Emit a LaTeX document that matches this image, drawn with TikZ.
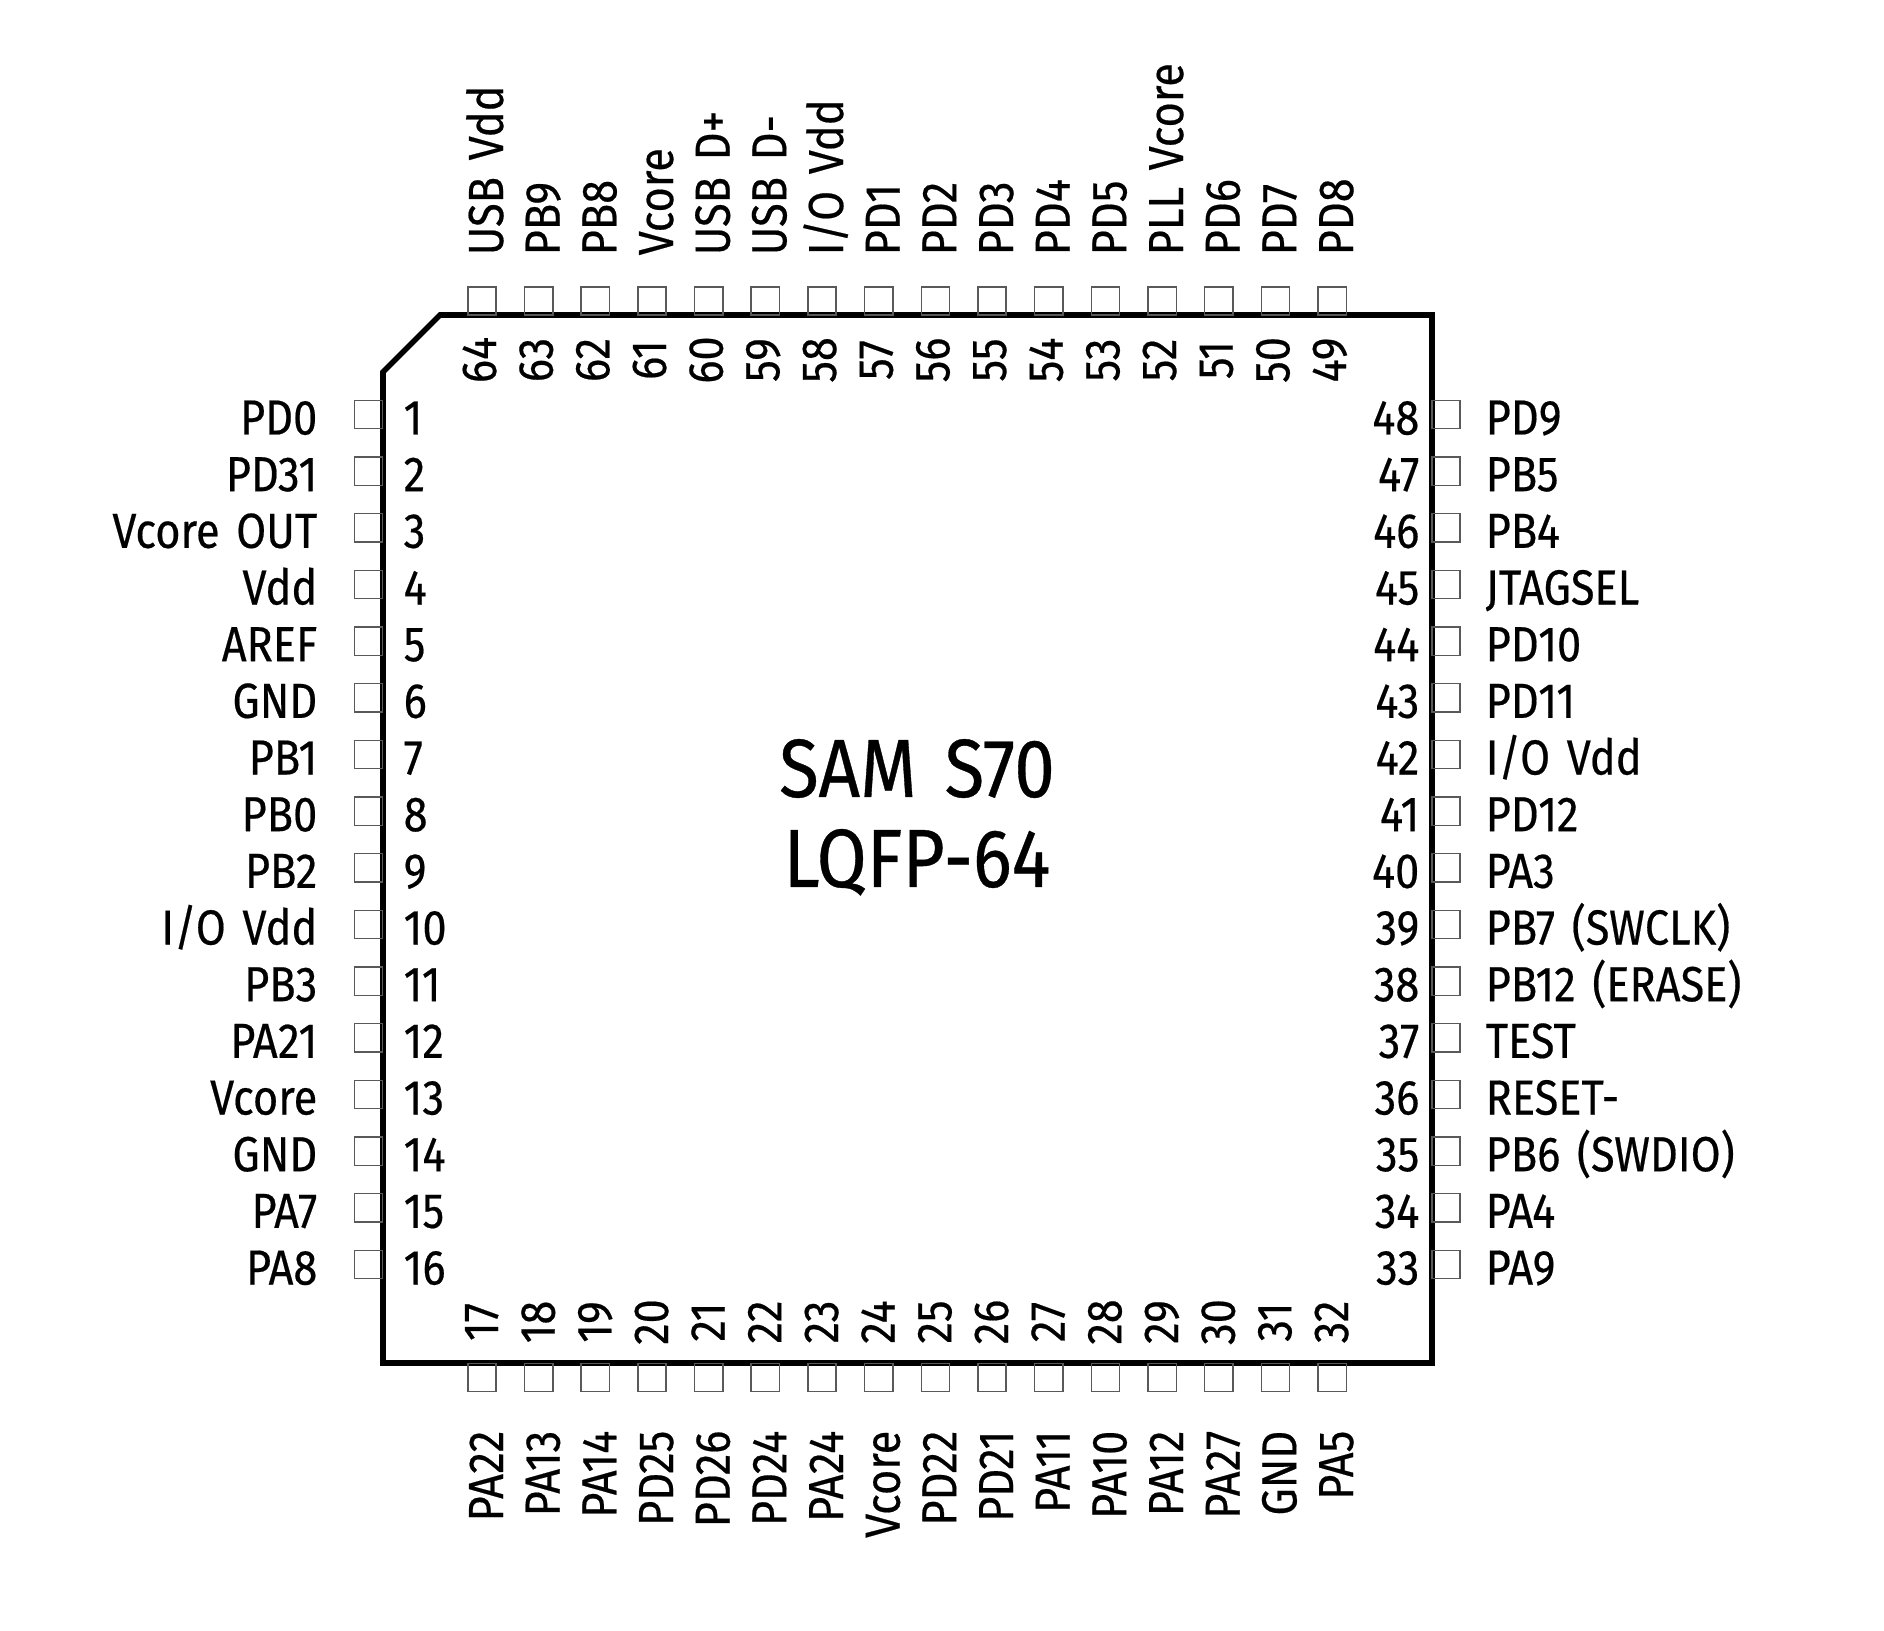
\documentclass[tikz,border=0pt]{standalone}
\usepackage{fontspec}
\setmainfont[FakeStretch=0.88,FakeBold=0.4,WordSpace=1.45]{Fira Sans}
\usetikzlibrary{positioning}

\tikzset{
  pinbox/.style={draw=black!65,line width=0.4pt,minimum size=0.283cm,inner sep=0pt},
  pintxt/.style={inner sep=0pt,font=\fontsize{14}{16}\selectfont},
  titletxt/.style={inner sep=0pt,font=\fontsize{23.5}{26}\selectfont}
}

\begin{document}
\begin{tikzpicture} [x=0.01cm,y=-0.01cm]

  \useasboundingbox (0,0) rectangle (1884,1631);

  % package outline
  \coordinate (c1) at (383,372);
  \coordinate (c2) at (440,315);
  \coordinate (c3) at (1432,315);
  \coordinate (c4) at (1432,1363);
  \coordinate (c5) at (383,1363);
  \draw[line width=1.6pt] (c1) -- (c2) -- (c3) -- (c4) -- (c5) -- cycle;

  % left side
  \foreach \n/\lab in {1/PD0,2/PD31,3/Vcore OUT,4/Vdd,5/AREF,6/GND,7/PB1,8/PB0,9/PB2,
      10/{I/O Vdd},11/PB3,12/PA21,13/Vcore,14/GND,15/PA7,16/PA8} {
    \pgfmathsetmacro\py{414.5+(\n-1)*56.67}
    \node[pinbox] (pin\n) at (368.5,\py) {};
    \node[pintxt,anchor=base west] (num\n) at (403,\py+20) {\n};
    \node[pintxt,anchor=base east] (lab\n) at (318,\py+20) {\lab};
  }

  % bottom side
  \foreach \n/\lab in {17/PA22,18/PA13,19/PA14,20/PD25,21/PD26,22/PD24,23/PA24,24/Vcore,
      25/PD22,26/PD21,27/PA11,28/PA10,29/PA12,30/PA27,31/GND,32/PA5} {
    \pgfmathsetmacro\px{482+(\n-17)*56.67}
    \node[pinbox] (pin\n) at (\px,1377.5) {};
    \node[pintxt,rotate=90,anchor=base] (num\n) at (\px+16,1322) {\n};
    \node[pintxt,rotate=90,anchor=base east] (lab\n) at (\px+21,1430) {\lab};
  }

  % right side
  \foreach \n/\lab in {33/PA9,34/PA4,35/PB6 (SWDIO),36/RESET-,37/TEST,38/PB12 (ERASE),
      39/PB7 (SWCLK),40/PA3,41/PD12,42/{I/O Vdd},43/PD11,44/PD10,45/JTAGSEL,46/PB4,47/PB5,48/PD9} {
    \pgfmathsetmacro\py{414.5+(48-\n)*56.67}
    \node[pinbox] (pin\n) at (1446,\py) {};
    \node[pintxt,anchor=base east] (num\n) at (1420,\py+20) {\n};
    \node[pintxt,anchor=base west] (lab\n) at (1485,\py+20) {\lab};
  }

  % top side
  \foreach \n/\lab in {49/PD8,50/PD7,51/PD6,52/PLL Vcore,53/PD5,54/PD4,55/PD3,56/PD2,57/PD1,
      58/{I/O Vdd},59/USB D-,60/USB D+,61/Vcore,62/PB8,63/PB9,64/USB Vdd} {
    \pgfmathsetmacro\px{482+(64-\n)*56.67}
    \node[pinbox] (pin\n) at (\px,301) {};
    \node[pintxt,rotate=90,anchor=base] (num\n) at (\px+14,360) {\n};
    \node[pintxt,rotate=90,anchor=base west] (lab\n) at (\px+21,256) {\lab};
  }

  \node[titletxt,anchor=base] (title) at (917,797) {SAM S70};
  \node[titletxt,anchor=base] (pack) at (917,887) {LQFP-64};

\end{tikzpicture}
\end{document}
